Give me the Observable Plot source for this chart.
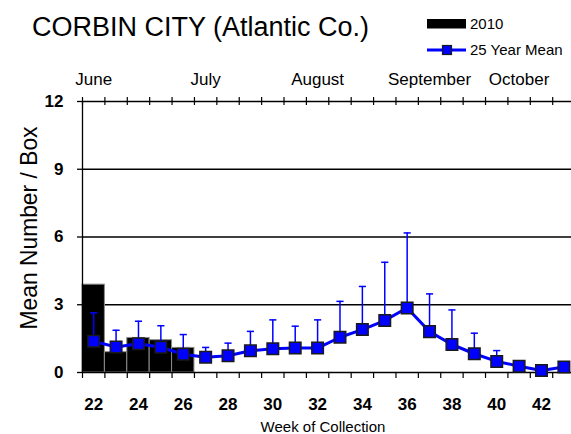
<!DOCTYPE html>
<html><head><meta charset="utf-8">
<script src="https://cdn.jsdelivr.net/npm/d3@7"></script>
<script src="https://cdn.jsdelivr.net/npm/@observablehq/plot@0.6"></script>
<style>
html,body{margin:0;padding:0;background:#fff;overflow:hidden}
#wrap{position:relative;width:571px;height:434px;font-family:"Liberation Sans",Arial,sans-serif}
#wrap svg{position:absolute;left:0;top:0}
</style></head><body><div id="wrap"></div>
<script>
// ---- data ----
const weeks = [22,23,24,25,26,27,28,29,30,31,32,33,34,35,36,37,38,39,40,41,42,43];
const mean25 = [1.38,1.13,1.27,1.12,0.81,0.68,0.74,0.96,1.05,1.08,1.08,1.56,1.90,2.30,2.86,1.81,1.24,0.83,0.49,0.28,0.09,0.24];
const upper25 = [2.64,1.87,2.27,2.07,1.68,1.11,1.30,1.82,2.33,2.05,2.33,3.15,3.81,4.88,6.18,3.48,2.77,1.74,0.97,null,null,null];
const weeks2010 = [22,23,24,25,26];
const count2010 = [3.89,0.90,1.53,1.43,1.09];
const yTicks = [0,3,6,9,12];
const xLabelWeeks = [22,24,26,28,30,32,34,36,38,40,42];
const months = ["June","July","August","September","October"];
const monthWeeks = [22,27,32,37,41];
const titleText = "CORBIN CITY (Atlantic Co.)";
const yTitle = "Mean Number / Box";
const xTitle = "Week of Collection";
const legendBar = "2010";
const legendLine = "25 Year Mean";

const meanData = weeks.map((w,i)=>({week:w, mean:mean25[i], upper:upper25[i]}));
const errData = meanData.filter(d=>d.upper!=null);
const barData = weeks2010.map((w,i)=>({week:w, v:count2010[i]}));
const bounds = d3.range(21.5, 43, 1);
const BLUE = "#0000ff";

const chart = Plot.plot({
  width:571, height:434, marginLeft:82, marginRight:0, marginTop:101, marginBottom:62,
  style:{fontFamily:'"Liberation Sans", Arial, sans-serif', color:"black", background:"transparent", overflow:"visible"},
  x:{type:"linear", domain:[21.5,43.34]},
  y:{domain:[0,12]},
  marks:[
    Plot.ruleY([3,6,9,12], {stroke:"black", strokeWidth:1.3}),
    Plot.rectY(barData, {x1:d=>d.week-0.5, x2:d=>d.week+0.5, y:"v", fill:"black", stroke:"#8c8c8c", strokeWidth:1}),
    Plot.ruleY([0], {stroke:"black", strokeWidth:1.3}),
    Plot.ruleX([21.5], {stroke:"black", strokeWidth:1.3}),
    Plot.ruleX(bounds, {y1:12, y2:12, insetTop:-4, insetBottom:-4, stroke:"black", strokeWidth:1.2}),
    Plot.axisX({anchor:"bottom", ticks:bounds, tickSize:6, tickFormat:()=>"", label:null, strokeWidth:1.2}),
    Plot.axisX({anchor:"bottom", ticks:xLabelWeeks, tickSize:0, tickPadding:25, fontSize:17, fontWeight:"bold", label:null}),
    Plot.axisX({anchor:"top", ticks:monthWeeks, tickSize:0, tickPadding:17, fontSize:17, tickFormat:(d,i)=>months[i], label:null}),
    Plot.axisY({ticks:yTicks, tickSize:5, tickPadding:14, fontSize:17, fontWeight:"bold", label:null, strokeWidth:1.3}),
    Plot.ruleX(errData, {x:"week", y1:"mean", y2:"upper", stroke:BLUE, strokeWidth:1.5}),
    Plot.link(errData, {x1:d=>d.week-0.16, x2:d=>d.week+0.16, y1:"upper", y2:"upper", stroke:BLUE, strokeWidth:1.5}),
    Plot.line(meanData, {x:"week", y:"mean", stroke:BLUE, strokeWidth:3}),
    Plot.dot(meanData, {x:"week", y:"mean", symbol:"square", r:6.5, fill:BLUE, stroke:"#1a1a1a", strokeWidth:1.5})
  ]
});
const wrap = document.getElementById("wrap");
wrap.appendChild(chart);

// overlay texts: title, legend, axis titles
const ov = d3.select(wrap).append("svg").attr("width",571).attr("height",434)
  .style("pointer-events","none")
  .attr("font-family",'"Liberation Sans", Arial, sans-serif').attr("fill","black");
ov.append("text").attr("x",32).attr("y",36.4).attr("font-size",27).text(titleText);
ov.append("rect").attr("x",427).attr("y",19).attr("width",39).attr("height",9.5).attr("fill","black");
ov.append("text").attr("x",470).attr("y",28.5).attr("font-size",15).text(legendBar);
ov.append("line").attr("x1",427).attr("x2",466).attr("y1",50).attr("y2",50).attr("stroke",BLUE).attr("stroke-width",3);
ov.append("rect").attr("x",442.5).attr("y",45.5).attr("width",9).attr("height",9).attr("fill",BLUE).attr("stroke","#1a1a1a").attr("stroke-width",1.2);
ov.append("text").attr("x",470).attr("y",54.5).attr("font-size",15).text(legendLine);
ov.append("text").attr("transform","translate(36.7,228) rotate(-90)").attr("text-anchor","middle")
  .attr("font-size",24).attr("textLength",203).attr("lengthAdjust","spacingAndGlyphs").text(yTitle);
ov.append("text").attr("x",323).attr("y",431.5).attr("text-anchor","middle").attr("font-size",15).text(xTitle);
</script></body></html>
